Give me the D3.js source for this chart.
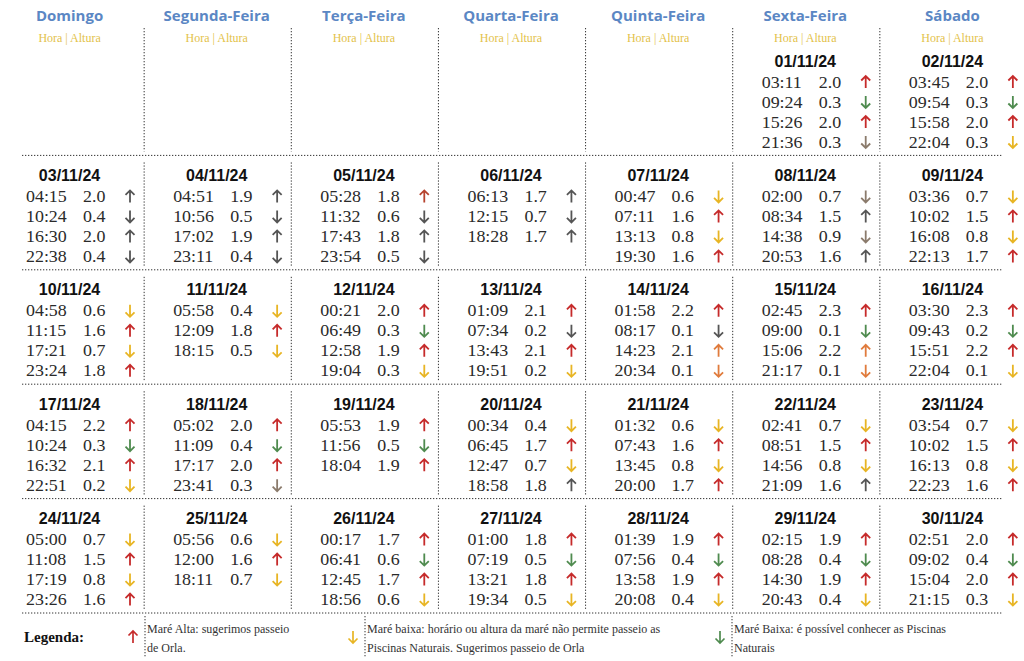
<!DOCTYPE html>
<html>
<head>
<meta charset="utf-8">
<script src="https://cdn.jsdelivr.net/npm/d3@7"></script>
<style>
  body { margin: 0; background: #fff; }
  svg { display: block; }
</style>
</head>
<body>
<div id="chart"></div>
<script>
var dayNames = ["Domingo", "Segunda-Feira", "Terça-Feira", "Quarta-Feira", "Quinta-Feira", "Sexta-Feira", "Sábado"];
var firstWeekday = 5; // 01/11/24 is a Friday

var dates = ["01/11/24", "02/11/24", "03/11/24", "04/11/24", "05/11/24", "06/11/24", "07/11/24",
  "08/11/24", "09/11/24", "10/11/24", "11/11/24", "12/11/24", "13/11/24", "14/11/24",
  "15/11/24", "16/11/24", "17/11/24", "18/11/24", "19/11/24", "20/11/24", "21/11/24",
  "22/11/24", "23/11/24", "24/11/24", "25/11/24", "26/11/24", "27/11/24", "28/11/24",
  "29/11/24", "30/11/24"];

var tideTimes = [
  ["03:11", "09:24", "15:26", "21:36"], ["03:45", "09:54", "15:58", "22:04"],
  ["04:15", "10:24", "16:30", "22:38"], ["04:51", "10:56", "17:02", "23:11"],
  ["05:28", "11:32", "17:43", "23:54"], ["06:13", "12:15", "18:28"],
  ["00:47", "07:11", "13:13", "19:30"], ["02:00", "08:34", "14:38", "20:53"],
  ["03:36", "10:02", "16:08", "22:13"], ["04:58", "11:15", "17:21", "23:24"],
  ["05:58", "12:09", "18:15"], ["00:21", "06:49", "12:58", "19:04"],
  ["01:09", "07:34", "13:43", "19:51"], ["01:58", "08:17", "14:23", "20:34"],
  ["02:45", "09:00", "15:06", "21:17"], ["03:30", "09:43", "15:51", "22:04"],
  ["04:15", "10:24", "16:32", "22:51"], ["05:02", "11:09", "17:17", "23:41"],
  ["05:53", "11:56", "18:04"], ["00:34", "06:45", "12:47", "18:58"],
  ["01:32", "07:43", "13:45", "20:00"], ["02:41", "08:51", "14:56", "21:09"],
  ["03:54", "10:02", "16:13", "22:23"], ["05:00", "11:08", "17:19", "23:26"],
  ["05:56", "12:00", "18:11"], ["00:17", "06:41", "12:45", "18:56"],
  ["01:00", "07:19", "13:21", "19:34"], ["01:39", "07:56", "13:58", "20:08"],
  ["02:15", "08:28", "14:30", "20:43"], ["02:51", "09:02", "15:04", "21:15"]
];

var tideHeights = [
  [2.0, 0.3, 2.0, 0.3], [2.0, 0.3, 2.0, 0.3], [2.0, 0.4, 2.0, 0.4], [1.9, 0.5, 1.9, 0.4],
  [1.8, 0.6, 1.8, 0.5], [1.7, 0.7, 1.7], [0.6, 1.6, 0.8, 1.6], [0.7, 1.5, 0.9, 1.6],
  [0.7, 1.5, 0.8, 1.7], [0.6, 1.6, 0.7, 1.8], [0.4, 1.8, 0.5], [2.0, 0.3, 1.9, 0.3],
  [2.1, 0.2, 2.1, 0.2], [2.2, 0.1, 2.1, 0.1], [2.3, 0.1, 2.2, 0.1], [2.3, 0.2, 2.2, 0.1],
  [2.2, 0.3, 2.1, 0.2], [2.0, 0.4, 2.0, 0.3], [1.9, 0.5, 1.9], [0.4, 1.7, 0.7, 1.8],
  [0.6, 1.6, 0.8, 1.7], [0.7, 1.5, 0.8, 1.6], [0.7, 1.5, 0.8, 1.6], [0.7, 1.5, 0.8, 1.6],
  [0.6, 1.6, 0.7], [1.7, 0.6, 1.7, 0.6], [1.8, 0.5, 1.8, 0.5], [1.9, 0.4, 1.9, 0.4],
  [1.9, 0.4, 1.9, 0.4], [2.0, 0.4, 2.0, 0.3]
];

// R = maré alta, Y = baixa sem passeio, G = baixa com piscinas, K/B/O/D = outras tonalidades
var arrowCodes = [
  ["R", "G", "R", "B"], ["R", "G", "R", "Y"], ["K", "K", "K", "K"], ["K", "K", "K", "K"],
  ["D", "K", "K", "K"], ["K", "K", "K"], ["Y", "R", "Y", "R"], ["B", "K", "B", "K"],
  ["Y", "R", "Y", "R"], ["Y", "R", "Y", "R"], ["Y", "R", "Y"], ["R", "G", "R", "Y"],
  ["R", "K", "R", "Y"], ["R", "K", "O", "O"], ["R", "G", "O", "O"], ["R", "G", "R", "Y"],
  ["R", "G", "R", "Y"], ["R", "G", "R", "B"], ["R", "G", "R"], ["Y", "R", "Y", "K"],
  ["Y", "R", "Y", "R"], ["Y", "R", "Y", "K"], ["Y", "R", "Y", "R"], ["Y", "R", "Y", "R"],
  ["Y", "R", "Y"], ["R", "G", "R", "Y"], ["R", "G", "R", "Y"], ["R", "G", "R", "Y"],
  ["R", "G", "R", "Y"], ["R", "G", "R", "Y"]
];

var legendCodes = ["R", "Y", "G"];
var legendLines = [
  ["Maré Alta: sugerimos passeio", "de Orla."],
  ["Maré baixa: horário ou altura da maré não permite passeio as", "Piscinas Naturais. Sugerimos passeio de Orla"],
  ["Maré Baixa: é possível conhecer as Piscinas", "Naturais"]
];

var colors = {
  R: "#c62b2b", Y: "#e8b524", G: "#4f8b4f", K: "#555555",
  B: "#8b7b6c", O: "#e07b3c", D: "#b6432e"
};

function buildChart() {
  var width = 1024, height = 661;

  var svg = d3.select("#chart")
    .append("svg")
    .attr("width", width)
    .attr("height", height)
    .style("background", "#fff");

  var weeks = d3.range(5);
  var x = d3.scaleBand().domain(d3.range(7)).range([-4, 1026]);
  var y = d3.scaleBand().domain(weeks).range([41, 613]);
  // line positions inside one cell
  var lineY = d3.scaleLinear().domain([0, 1]).range([41, 61]);

  var arrowUp = "M0,6V-6M-4.5,-1.5L0,-6L4.5,-1.5";
  var arrowDown = "M0,-6V6M-4.5,1.5L0,6L4.5,1.5";

  // header
  svg.selectAll(".dayName")
    .data(dayNames)
    .enter()
    .append("text")
    .attr("class", "dayName")
    .attr("x", function(d, i) { return x(i) + x.bandwidth() / 2; })
    .attr("y", 21)
    .attr("text-anchor", "middle")
    .style("font-family", "'Open Sans', sans-serif")
    .style("font-weight", 700)
    .style("font-size", "15px")
    .style("fill", "#5b87c4")
    .text(function(d) { return d; });

  svg.selectAll(".subHead")
    .data(dayNames)
    .enter()
    .append("text")
    .attr("class", "subHead")
    .attr("x", function(d, i) { return x(i) + x.bandwidth() / 2; })
    .attr("y", 42)
    .attr("text-anchor", "middle")
    .style("font-family", "'Liberation Serif', serif")
    .style("font-size", "12px")
    .style("fill", "#e3c24a")
    .text("Hora | Altura");

  // dotted grid
  var grid = svg.append("g")
    .attr("stroke", "#333")
    .attr("stroke-width", 1)
    .attr("stroke-dasharray", "1.3,1.7")
    .attr("fill", "none");

  grid.selectAll(".hline")
    .data(weeks)
    .enter()
    .append("line")
    .attr("x1", 22)
    .attr("x2", 1002)
    .attr("y1", function(w) { return y(w) + y.bandwidth(); })
    .attr("y2", function(w) { return y(w) + y.bandwidth(); });

  var vlines = [];
  weeks.forEach(function(w) {
    d3.range(1, 7).forEach(function(c) { vlines.push({ w: w, c: c }); });
  });
  grid.selectAll(".vline")
    .data(vlines)
    .enter()
    .append("line")
    .attr("x1", function(d) { return x(d.c) + 1; })
    .attr("x2", function(d) { return x(d.c) + 1; })
    .attr("y1", function(d) { return d.w === 0 ? 28 : y(d.w) + 7; })
    .attr("y2", function(d) { return y(d.w) + y.bandwidth() - 4; });

  // day cells
  var cells = svg.selectAll(".day")
    .data(dates)
    .enter()
    .append("g")
    .attr("class", "day")
    .attr("transform", function(d, i) {
      var k = i + firstWeekday;
      return "translate(" + x(k % 7) + "," + y(Math.floor(k / 7)) + ")";
    });

  cells.append("text")
    .attr("x", x.bandwidth() / 2)
    .attr("y", 25.5)
    .attr("text-anchor", "middle")
    .style("font-family", "'Liberation Sans', Arial, sans-serif")
    .style("font-weight", 700)
    .style("font-size", "16px")
    .style("fill", "#111")
    .text(function(d) { return d; });

  var rows = cells.selectAll(".tide")
    .data(function(d, i) {
      return tideTimes[i].map(function(t, j) {
        return { time: t, h: tideHeights[i][j], code: arrowCodes[i][j], j: j };
      });
    })
    .enter()
    .append("g")
    .attr("class", "tide")
    .attr("transform", function(d) { return "translate(0," + lineY(d.j) + ")"; });

  rows.append("text")
    .attr("transform", "translate(30,5.5) scale(1.12,1)")
    .style("font-family", "'Liberation Serif', 'Times New Roman', serif")
    .style("font-size", "16px")
    .style("fill", "#2a2a2a")
    .text(function(d) { return d.time; });

  rows.append("text")
    .attr("transform", "translate(87,5.5) scale(1.12,1)")
    .style("font-family", "'Liberation Serif', 'Times New Roman', serif")
    .style("font-size", "16px")
    .style("fill", "#2a2a2a")
    .text(function(d) { return d.h.toFixed(1); });

  rows.append("path")
    .attr("transform", "translate(134,0)")
    .attr("d", function(d) { return d.h > 1.2 ? arrowUp : arrowDown; })
    .attr("fill", "none")
    .attr("stroke", function(d) { return colors[d.code]; })
    .attr("stroke-width", 1.8);

  // legend
  var legend = svg.append("g").attr("class", "legend");
  legend.append("text")
    .attr("x", 24)
    .attr("y", 642)
    .style("font-family", "'Liberation Serif', serif")
    .style("font-weight", 700)
    .style("font-size", "15px")
    .style("fill", "#111")
    .text("Legenda:");

  var legendX = d3.scaleOrdinal().domain(legendCodes).range([145, 365, 732]);

  var items = legend.selectAll(".item")
    .data(legendCodes)
    .enter()
    .append("g")
    .attr("class", "item")
    .attr("transform", function(d) { return "translate(" + legendX(d) + ",0)"; });

  items.append("path")
    .attr("transform", "translate(-12,637)")
    .attr("d", function(d) { return d === "R" ? arrowUp : arrowDown; })
    .attr("fill", "none")
    .attr("stroke", function(d) { return colors[d]; })
    .attr("stroke-width", 1.7);

  items.append("line")
    .attr("x1", 0).attr("x2", 0)
    .attr("y1", 616).attr("y2", 657)
    .attr("stroke", "#333")
    .attr("stroke-dasharray", "1.3,1.7");

  items.selectAll(".ltext")
    .data(function(d, i) { return legendLines[i]; })
    .enter()
    .append("text")
    .attr("x", 2)
    .attr("y", function(d, j) { return 633 + j * 18.5; })
    .style("font-family", "'Liberation Serif', serif")
    .style("font-size", "12px")
    .style("fill", "#333")
    .text(function(d) { return d; });
}

buildChart();
</script>
</body>
</html>
